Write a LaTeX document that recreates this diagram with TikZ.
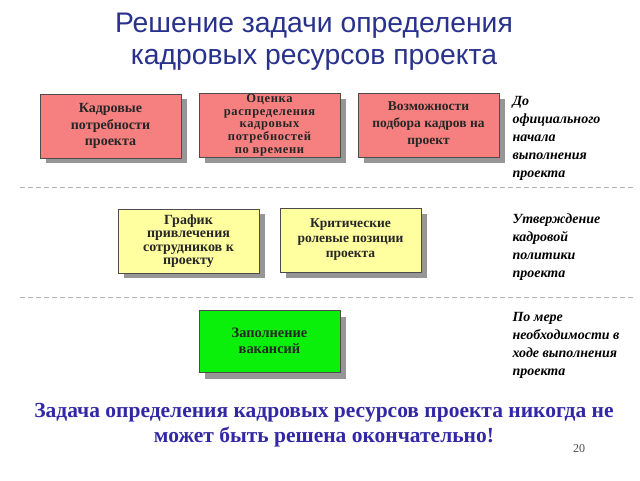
\documentclass[tikz,border=0pt]{standalone}
\usepackage{fontspec}
\setmainfont{Liberation Serif}
\newfontfamily\titlefont{Liberation Sans}
\newfontfamily\spacedfont[LetterSpace=5,BoldFont={Liberation Serif Bold}]{Liberation Serif}
\definecolor{boxred}{RGB}{246,128,128}
\definecolor{boxyellow}{RGB}{255,255,160}
\definecolor{boxgreen}{RGB}{10,240,10}
\definecolor{titleblue}{RGB}{40,50,140}
\definecolor{notblue}{RGB}{50,40,165}
\definecolor{shadowgray}{RGB}{150,150,150}
\tikzset{
  card/.style={draw=black!70, line width=0.6pt, minimum width=141pt, minimum height=64pt,
    align=center, font=\bfseries\fontsize{14}{16.5}\selectfont, inner sep=1pt,
    text=black!85},
  redcard/.style={card, fill=boxred},
  yellowcard/.style={card, fill=boxyellow},
  greencard/.style={card, fill=boxgreen},
  note/.style={anchor=north west, align=left, font=\bfseries\itshape\fontsize{14}{18}\selectfont},
  sep/.style={draw=gray!60, dashed, line width=1pt, dash pattern=on 5pt off 3pt},
}
\begin{document}
\begin{tikzpicture}[x=1pt,y=-1pt]
\useasboundingbox[fill=white] (0,0) rectangle (640,480);
% title
\node[font=\titlefont\fontsize{28.3}{32}\selectfont, text=titleblue, align=center] (title) at (314,42) {Решение задачи определения\\кадровых ресурсов проекта};
% shadows
\fill[shadowgray] (46,99) rectangle (187,163);
\fill[shadowgray] (205,99) rectangle (346,163);
\fill[shadowgray] (364,99) rectangle (505,163);
\fill[shadowgray] (124,214) rectangle (265,278);
\fill[shadowgray] (286,214) rectangle (427,278);
\fill[shadowgray] (205,317) rectangle (346,379);
% boxes
\node[redcard] (b1) at (110.5,126) {Кадровые\\потребности\\проекта};
\node[redcard, font=\spacedfont\bfseries\fontsize{12.5}{12.8}\selectfont] (b2) at (269.5,125) {Оценка\\распределения\\кадровых\\потребностей\\по времени};
\node[redcard, font=\bfseries\fontsize{13.5}{17}\selectfont] (b3) at (428.5,125) {Возможности\\подбора кадров на\\проект};
\node[yellowcard, font=\bfseries\fontsize{14}{13.5}\selectfont] (b4) at (188.5,241) {График\\привлечения\\сотрудников к\\проекту};
\node[yellowcard, font=\bfseries\fontsize{13.5}{15}\selectfont] (b5) at (350.5,240) {Критические\\ролевые позиции\\проекта};
\node[greencard, minimum height=62pt, font=\bfseries\fontsize{14.4}{16}\selectfont] (b6) at (269.5,341) {Заполнение\\вакансий};
% separators
\coordinate (s1a) at (20,187); \coordinate (s1b) at (636,187);
\coordinate (s2a) at (20,297); \coordinate (s2b) at (636,297);
\draw[sep] (s1a) -- (s1b);
\draw[sep] (s2a) -- (s2b);
% notes
\node[note] (n1) at (509,93) {До\\официального\\начала\\выполнения\\проекта};
\node[note] (n2) at (509,210) {Утверждение\\кадровой\\политики\\проекта};
\node[note] (n3) at (509,309) {По мере\\необходимости в\\ходе выполнения\\проекта};
% bottom
\node[font=\bfseries\fontsize{21.5}{25}\selectfont, text=notblue, align=center] (bottom) at (324,425) {Задача определения кадровых ресурсов проекта никогда не\\может быть решена окончательно!};
\node[font=\fontsize{12}{12}\selectfont, text=black!70] (page) at (579,449) {20};
\end{tikzpicture}
\end{document}
